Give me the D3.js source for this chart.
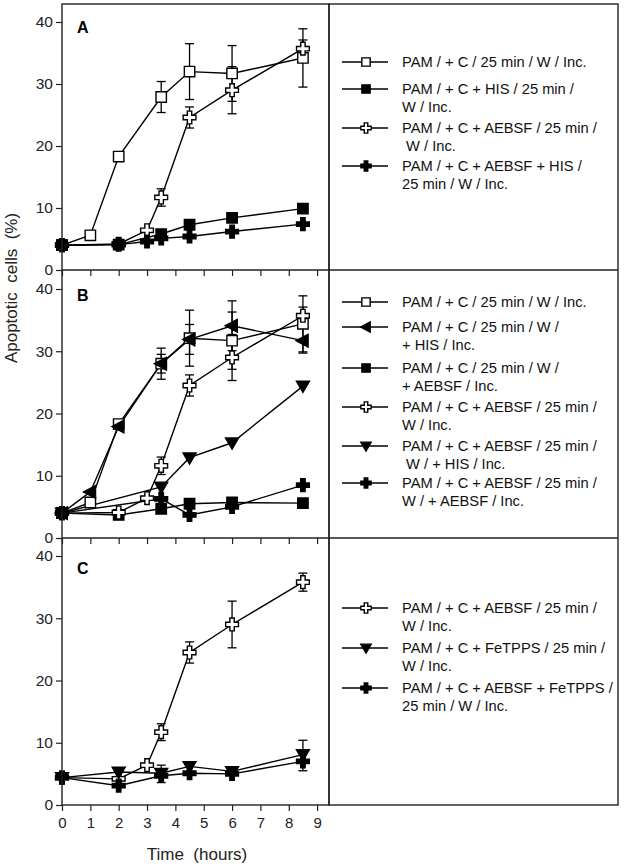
<!DOCTYPE html>
<html><head><meta charset="utf-8">
<script src="https://cdn.jsdelivr.net/npm/d3@7"></script>
<style>html,body{margin:0;padding:0;background:#fff;} svg{display:block;font-family:"Liberation Sans",Arial,sans-serif;}</style>
</head><body><svg id="c" width="624" height="868"></svg>
<script>
// ---------- DATA ----------
const times  = [0, 1, 2, 3, 3.5, 4.5, 6, 8.5];
const xTicks = [0, 1, 2, 3, 4, 5, 6, 7, 8, 9];
const yTicks = [0, 10, 20, 30, 40];
const panelLetters = ["A", "B", "C"];
const yLabel = "Apoptotic  cells  (%)";
const xLabel = "Time  (hours)";

// Panel A
const A_pamC       = [4.0, 5.6, 18.3, null, 27.9, 32.0, 31.7, 34.2];
const A_pamC_err   = [0, 0, 0, null, 2.5, 4.5, 4.5, 4.7];
const A_his        = [4.0, null, 4.1, null, 5.8, 7.3, 8.4, 9.9];
const A_aebsf      = [4.0, null, 4.2, 6.4, 11.7, 24.6, 29.0, 35.7];
const A_aebsf_err  = [0, null, 0, 0, 1.4, 1.7, 3.8, 1.4];
const A_aebsfHis   = [4.0, null, 4.1, 4.6, 5.1, 5.4, 6.2, 7.4];
const A_labels = [
  ["PAM / + C / 25 min / W / Inc."],
  ["PAM / + C + HIS / 25 min /", "W / Inc."],
  ["PAM / + C + AEBSF / 25 min /", " W / Inc."],
  ["PAM / + C + AEBSF + HIS /", "25 min / W / Inc."]
];

// Panel B
const B_pamC          = [4.0, 5.7, 18.3, null, 28.0, 32.1, 31.7, 34.4];
const B_pamC_err      = [0, 0, 0, null, 2.5, 4.5, 4.6, 4.5];
const B_hisAfter      = [4.0, 7.4, 17.9, null, 28.0, 31.9, 34.1, 31.7];
const B_hisAfter_err  = [0, 0, 0, null, 1.5, 2.4, 4.0, 2.0];
const B_aebsfAfter    = [4.0, null, 3.7, null, 4.7, 5.5, 5.7, 5.6];
const B_aebsf         = [4.0, null, 4.1, 6.4, 11.6, 24.5, 29.0, 35.7];
const B_aebsf_err     = [0, null, 0, 0, 1.4, 1.7, 3.7, 1.4];
const B_aebsfHis      = [4.0, null, null, null, 8.2, 12.9, 15.3, 24.4];
const B_aebsfAebsf    = [4.0, null, null, null, 6.3, 3.7, 5.0, 8.5];
const B_labels = [
  ["PAM / + C / 25 min / W / Inc."],
  ["PAM / + C / 25 min / W /", "+ HIS / Inc."],
  ["PAM / + C / 25 min / W /", "+ AEBSF / Inc."],
  ["PAM / + C + AEBSF / 25 min /", "W / Inc."],
  ["PAM / + C + AEBSF / 25 min /", " W / + HIS / Inc."],
  ["PAM / + C + AEBSF / 25 min /", "W / + AEBSF / Inc."]
];

// Panel C
const C_aebsf          = [4.4, null, 4.2, 6.4, 11.7, 24.5, 29.0, 35.8];
const C_aebsf_err      = [0, null, 0, 0, 1.35, 1.7, 3.75, 1.45];
const C_fetpps         = [4.4, null, 5.3, null, 5.1, 6.2, 5.4, 8.1];
const C_fetpps_errHi   = [0, null, 0, null, 1.3, 0, 0, 2.3];
const C_aebsfFetpps    = [4.4, null, 3.1, null, 4.7, 5.1, 5.0, 7.0];
const C_aebsfFetpps_errLo = [0, null, 0, null, 1.1, 0, 0, 1.5];
const C_labels = [
  ["PAM / + C + AEBSF / 25 min /", "W / Inc."],
  ["PAM / + C + FeTPPS / 25 min /", "W / Inc."],
  ["PAM / + C + AEBSF + FeTPPS /", "25 min / W / Inc."]
];

// ---------- LAYOUT ----------
const svg = d3.select("#c");
const X0 = 62, X1 = 329, LX1 = 618, TOP = 4;
const x = d3.scaleLinear().domain([0, 9.42]).range([X0, X1]);

const panels = [
  { top: TOP, bottom: 270, y40: 22, letterDy: 11, legendY: [62, 89, 128, 166], labels: A_labels,
    series: [
      { vals: A_pamC, hi: A_pamC_err, lo: A_pamC_err, shape: "sqOpen" },
      { vals: A_his, shape: "sqFilled" },
      { vals: A_aebsf, hi: A_aebsf_err, lo: A_aebsf_err, shape: "crossOpen" },
      { vals: A_aebsfHis, shape: "crossFilled" }
    ]},
  { top: 270, bottom: 538, y40: 289, letterDy: 12, legendY: [302, 327, 368, 407, 446, 483], labels: B_labels,
    series: [
      { vals: B_pamC, hi: B_pamC_err, lo: B_pamC_err, shape: "sqOpen" },
      { vals: B_hisAfter, hi: B_hisAfter_err, lo: B_hisAfter_err, shape: "triLeft" },
      { vals: B_aebsfAfter, shape: "sqFilled" },
      { vals: B_aebsf, hi: B_aebsf_err, lo: B_aebsf_err, shape: "crossOpen" },
      { vals: B_aebsfHis, shape: "triDown" },
      { vals: B_aebsfAebsf, shape: "crossFilled" }
    ]},
  { top: 538, bottom: 805, y40: 556, letterDy: 18, legendY: [608, 648, 688], labels: C_labels, showX: true,
    series: [
      { vals: C_aebsf, hi: C_aebsf_err, lo: C_aebsf_err, shape: "crossOpen" },
      { vals: C_fetpps, hi: C_fetpps_errHi, shape: "triDown" },
      { vals: C_aebsfFetpps, lo: C_aebsfFetpps_errLo, shape: "crossFilled" }
    ]}
];

function markerPath(shape, s) {
  if (shape === "sqOpen" || shape === "sqFilled") {
    const h = 5.2 * s; return `M${-h},${-h}H${h}V${h}H${-h}Z`;
  }
  if (shape === "crossOpen" || shape === "crossFilled") {
    const r = 6.4 * s, a = 2.2 * s;
    return `M${-a},${-r}H${a}V${-a}H${r}V${a}H${a}V${r}H${-a}V${a}H${-r}V${-a}H${-a}Z`;
  }
  if (shape === "triDown") { const w = 6.5 * s; return `M${-w},${-4.8*s}L${w},${-4.8*s}L0,${6.3*s}Z`; }
  if (shape === "triLeft") { return `M${-6.8*s},0L${5.2*s},${-6.3*s}L${5.2*s},${6.3*s}Z`; }
}
function drawMarker(g, shape, cx, cy, s) {
  const filled = !(shape === "sqOpen" || shape === "crossOpen");
  g.append("path").attr("d", markerPath(shape, s))
    .attr("transform", `translate(${cx},${cy})`)
    .attr("fill", filled ? "#000" : "#fff")
    .attr("stroke", "#000").attr("stroke-width", 1.4)
    .attr("stroke-linejoin", "miter");
}

panels.forEach((p, pi) => {
  const y = d3.scaleLinear().domain([0, 40]).range([p.bottom, p.y40]);
  const g = svg.append("g");

  const ya = g.append("g").attr("transform", `translate(${X0},0)`)
    .call(d3.axisLeft(y).tickValues(yTicks).tickSize(6).tickPadding(3));
  ya.select(".domain").remove();
  ya.selectAll("text").attr("font-size", 15.5).attr("font-family", "Liberation Sans, Arial, sans-serif").attr("fill", "#222");
  ya.selectAll("line").attr("stroke", "#222").attr("stroke-width", 1.2);

  const xa = g.append("g").attr("transform", `translate(0,${p.bottom})`)
    .call(d3.axisBottom(x).tickValues(xTicks).tickSize(6).tickPadding(6)
      .tickFormat(p.showX ? d3.format("d") : () => ""));
  xa.select(".domain").remove();
  xa.selectAll("text").attr("font-size", 15).attr("font-family", "Liberation Sans, Arial, sans-serif").attr("fill", "#222");
  xa.selectAll("line").attr("stroke", "#222").attr("stroke-width", 1.2);

  g.append("text").attr("x", 77).attr("y", p.y40 + p.letterDy)
    .attr("font-size", 16).attr("font-weight", "bold").text(panelLetters[pi]);

  const line = d3.line().x(d => x(d.t)).y(d => y(d.v));
  p.series.forEach(s => {
    const pts = times.map((t, i) => ({ t, v: s.vals[i] })).filter(d => d.v != null);
    g.append("path").attr("d", line(pts)).attr("fill", "none")
      .attr("stroke", "#000").attr("stroke-width", 1.4);
  });
  p.series.forEach(s => {
    times.forEach((t, i) => {
      const v = s.vals[i]; if (v == null) return;
      const cx = x(t);
      [[s.hi, 1], [s.lo, -1]].forEach(([arr, dir]) => {
        if (!arr || !arr[i]) return;
        const ye = y(v + dir * arr[i]);
        g.append("line").attr("x1", cx).attr("x2", cx).attr("y1", y(v)).attr("y2", ye)
          .attr("stroke", "#000").attr("stroke-width", 1.3);
        g.append("line").attr("x1", cx - 4.5).attr("x2", cx + 4.5).attr("y1", ye).attr("y2", ye)
          .attr("stroke", "#000").attr("stroke-width", 1.3);
      });
    });
  });
  p.series.forEach(s => {
    times.forEach((t, i) => {
      const v = s.vals[i]; if (v == null) return;
      drawMarker(g, s.shape, x(t), y(v), 1);
    });
  });

  const lg = svg.append("g");
  p.series.forEach((s, si) => {
    const my = p.legendY[si];
    lg.append("line").attr("x1", 342).attr("x2", 388).attr("y1", my).attr("y2", my)
      .attr("stroke", "#000").attr("stroke-width", 1.3);
    drawMarker(lg, s.shape, 366, my, 0.8);
    p.labels[si].forEach((ln, li) => {
      lg.append("text").attr("x", 402).attr("y", my + 5 + li * 18)
        .attr("font-size", 14.7).attr("fill", "#111").style("white-space", "pre").text(ln);
    });
  });
});

const fr = svg.append("g").attr("fill", "none").attr("stroke", "#222").attr("stroke-width", 1.4);
fr.append("rect").attr("x", X0).attr("y", TOP).attr("width", X1 - X0).attr("height", 805 - TOP);
fr.append("rect").attr("x", X1).attr("y", TOP).attr("width", LX1 - X1).attr("height", 805 - TOP);
[270, 538].forEach(yy => fr.append("line").attr("x1", X0).attr("x2", LX1).attr("y1", yy).attr("y2", yy));

svg.append("text").attr("transform", "translate(17,288) rotate(-90)")
  .attr("text-anchor", "middle").attr("font-size", 17).attr("fill", "#222")
  .style("white-space", "pre").text(yLabel);
svg.append("text").attr("x", 197).attr("y", 860).attr("text-anchor", "middle")
  .attr("font-size", 17).attr("fill", "#222").style("white-space", "pre").text(xLabel);
</script></body></html>
